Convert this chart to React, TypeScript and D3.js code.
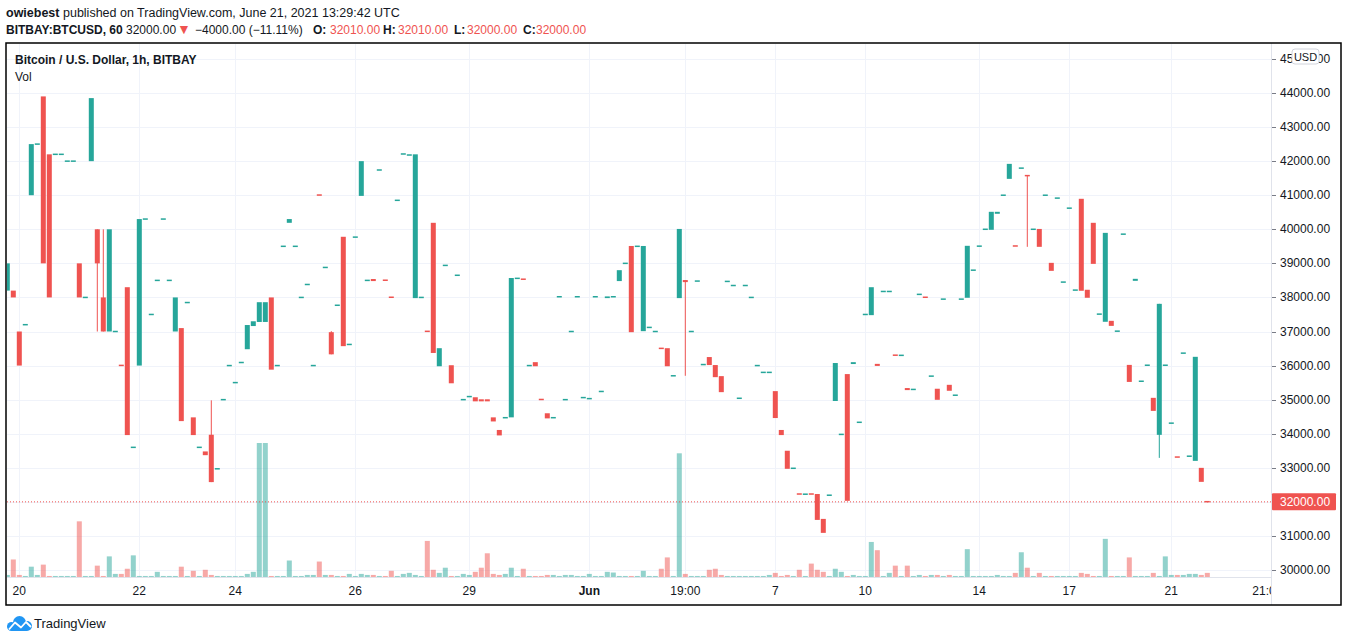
import React from "react";
import * as d3 from "d3";

// candles, one per bar (BITBAY BTCUSD 1h)
const opens = [
  38200, 38200, 37000, 37200, 41000, 42500, 43900, 42200, 42200, 42200,
  42000, 42000, 39000, 38000, 42000, 40000, 38000, 37000, 37000, 36010,
  38300, 33600, 36000, 40300, 37500, 38500, 40300, 38500, 37000, 37100,
  37850, 34480, 33600, 33480, 33970, 32970, 35000, 36000, 35500, 36090,
  36480, 37160, 37280, 37280, 38000, 36000, 39500, 40190, 39500, 38000,
  38380, 36000, 41010, 38880, 36980, 37770, 39780, 36620, 39770, 40980,
  38500, 38540, 41740, 38510, 38010, 40850, 42210, 42180, 37980, 38000,
  37010, 40190, 35980, 38940, 36010, 38650, 35000, 35090, 35070, 35010,
  35010, 34480, 34110, 34470, 34480, 38560, 38540, 36000, 36100, 35010,
  34600, 34470, 38020, 35000, 37000, 38020, 35060, 35030, 38020, 35240,
  37980, 38020, 38480, 39000, 39510, 39500, 37010, 37120, 37000, 36510,
  36510, 35700, 37980, 38510, 37000, 38480, 36030, 36250, 36015, 35690,
  38470, 38350, 35040, 38350, 38000, 36000, 35800, 35800, 35250, 34110,
  33500, 32985, 32235, 32225, 32235, 32230, 31500, 32195, 34960, 33980,
  35750, 36045, 34335, 37500, 37480, 36050, 38175, 38175, 36310, 36300,
  35340, 35300, 38090, 38010, 35690, 35320, 37950, 35435, 35130, 37950,
  37990, 38800, 39505, 40000, 39985, 40455, 41000, 41480, 39515, 41795,
  41590, 40000, 40010, 41000, 39015, 40915, 38450, 40620, 38215, 40895,
  38225, 40190, 37510, 37285, 37313, 37010, 39857, 36020, 38487, 35540,
  36010, 35053, 33967, 36010, 34310, 33320, 36365, 33340, 33203, 32998,
  32010,
];

const closes = [
  39000, 38000, 36000, 37200, 42500, 42500, 39000, 38000, 42200, 42200,
  42000, 42000, 38000, 38000, 43850, 39000, 37000, 40000, 37000, 36000,
  33960, 33600, 40300, 40300, 37500, 38500, 40300, 38500, 38000, 34370,
  37850, 33960, 33600, 33370, 32580, 32970, 35000, 36000, 35500, 36090,
  37190, 37300, 37860, 37860, 35880, 36000, 39500, 40300, 39500, 38000,
  38380, 36000, 41000, 38880, 36330, 37770, 36570, 36620, 39770, 42000,
  38500, 38480, 41740, 38500, 38000, 40850, 42210, 42180, 42200, 38000,
  37000, 36370, 36510, 38940, 35480, 38650, 35000, 35090, 34950, 34950,
  34950, 34360, 33950, 34470, 38570, 38560, 38530, 36000, 35980, 35000,
  34450, 34470, 38020, 35000, 37000, 38020, 35060, 35030, 38020, 35240,
  38030, 38020, 38800, 39000, 36980, 39500, 39510, 37120, 37000, 36500,
  35980, 35700, 40010, 38450, 37000, 38480, 36030, 36015, 35660, 35220,
  38470, 38350, 35040, 38350, 38000, 36000, 35800, 35800, 34460, 33960,
  32970, 32985, 32225, 32225, 32225, 31470, 31090, 32195, 36075, 33980,
  32030, 36100, 34335, 37500, 38300, 35990, 38175, 38175, 36300, 36300,
  35280, 35300, 38090, 38000, 35690, 34995, 37950, 35260, 35130, 37950,
  39515, 38800, 39505, 40000, 40513, 40513, 41000, 41920, 39505, 41795,
  41560, 40000, 39485, 41000, 38780, 40915, 38450, 40620, 38215, 38195,
  37990, 38985, 37510, 39895, 37165, 37010, 39857, 35520, 38546, 35540,
  36010, 34670, 37812, 36010, 34310, 33310, 36365, 33340, 36257, 32587,
  32000,
];

// the few bars whose wick sticks out of the body: [bar, price]
const upperWicks: [number, number][] = [[16, 40000], [34, 34980], [54, 37010]];
const lowerWicks: [number, number][] = [[15, 37000], [113, 35700], [170, 39485], [192, 33290]];

// volume, relative units
const volumes = [
  6, 51, 6, 3, 30, 6, 36, 3, 3, 3,
  3, 3, 162, 3, 3, 33, 3, 60, 9, 9,
  24, 63, 3, 3, 3, 15, 3, 3, 3, 30,
  3, 18, 3, 21, 6, 3, 3, 3, 3, 3,
  9, 15, 390, 390, 3, 3, 3, 48, 3, 3,
  6, 6, 45, 6, 6, 3, 3, 9, 3, 9,
  6, 6, 3, 3, 18, 3, 9, 12, 6, 3,
  105, 21, 12, 27, 3, 3, 9, 6, 15, 27,
  69, 9, 6, 9, 27, 3, 24, 3, 3, 3,
  6, 6, 3, 6, 6, 3, 3, 9, 3, 3,
  15, 13, 3, 3, 3, 3, 18, 3, 3, 24,
  57, 3, 360, 9, 3, 3, 3, 21, 24, 6,
  3, 3, 3, 3, 3, 3, 3, 6, 12, 3,
  6, 3, 21, 3, 39, 21, 15, 3, 24, 15,
  3, 6, 3, 3, 102, 78, 3, 12, 33, 3,
  33, 3, 6, 3, 6, 6, 3, 6, 3, 3,
  81, 3, 3, 3, 3, 6, 3, 3, 12, 72,
  27, 3, 12, 3, 3, 3, 3, 3, 3, 12,
  9, 3, 3, 111, 3, 3, 3, 57, 3, 3,
  3, 12, 3, 60, 6, 6, 6, 9, 9, 6,
  12,
];

const priceTicks = d3.range(30000, 45001, 1000);
const timeTickBars = [2, 22, 38, 58, 77, 97, 113, 128, 143, 162, 177, 194, 210];
const timeTickLabels = ["20", "22", "24", "26", "29", "Jun", "19:00", "7", "10", "14", "17", "21", "21:00"];
const lastPrice = 32000;

const UP = "#26a69a";
const DOWN = "#ef5350";
const TEXT = "#131722";
const FONT = "'Liberation Sans', Arial, sans-serif";

const paneLeft = 7;
const paneRight = 1271;
const paneTop = 44;
const paneBottom = 577;

export default function App() {
  const x = d3.scaleLinear().domain([0, 200]).range([7.3, 1207.3]);
  const y = d3.scaleLinear().domain([30000, 44000]).range([570, 93]);
  const yVol = d3.scaleLinear().domain([0, d3.max(volumes) as number]).range([paneBottom, 443]);
  const upper = new Map(upperWicks);
  const lower = new Map(lowerWicks);
  const bodyW = 5;
  const yLast = y(lastPrice);
  const fmt = d3.format(".2f");

  return (
    <svg
      width={1348}
      height={642}
      style={{ position: "absolute", left: 0, top: 0, background: "#fff" }}
      fontFamily={FONT}
    >
      <defs>
        <clipPath id="pane">
          <rect x={paneLeft} y={paneTop} width={paneRight - paneLeft} height={paneBottom - paneTop} />
        </clipPath>
        <clipPath id="timeaxis">
          <rect x={paneLeft} y={paneBottom} width={paneRight - paneLeft} height={30} />
        </clipPath>
      </defs>
      <rect width={1348} height={642} fill="#fff" />

      {/* header */}
      <text x={6} y={17} fontSize={12.5} fill={TEXT}>
        <tspan fontWeight="bold">owiebest</tspan>
        <tspan> published on TradingView.com, June 21, 2021 13:29:42 UTC</tspan>
      </text>
      <g fontSize={12} fill={TEXT}>
        <text x={6} y={34} fontWeight="bold">BITBAY:BTCUSD, 60</text>
        <text x={126} y={34}>32000.00</text>
        <text x={177} y={34} fill={DOWN} fontSize={14}>▼</text>
        <text x={195} y={34}>−4000.00 (−11.11%)</text>
        <text x={313} y={34} fontWeight="bold">O:</text>
        <text x={330} y={34} fill={DOWN}>32010.00</text>
        <text x={383} y={34} fontWeight="bold">H:</text>
        <text x={398} y={34} fill={DOWN}>32010.00</text>
        <text x={454} y={34} fontWeight="bold">L:</text>
        <text x={467} y={34} fill={DOWN}>32000.00</text>
        <text x={523} y={34} fontWeight="bold">C:</text>
        <text x={536} y={34} fill={DOWN}>32000.00</text>
      </g>

      {/* grid */}
      <g stroke="#f0f3fa" strokeWidth={1}>
        {priceTicks.map((t) => (
          <line key={t} x1={paneLeft} x2={paneRight} y1={Math.round(y(t)) + 0.5} y2={Math.round(y(t)) + 0.5} />
        ))}
        {timeTickBars.slice(0, -1).map((b) => (
          <line key={b} x1={Math.round(x(b)) + 0.5} x2={Math.round(x(b)) + 0.5} y1={paneTop} y2={paneBottom} />
        ))}
      </g>

      <g clipPath="url(#pane)">
        {/* volume */}
        {volumes.map((v, i) => {
          const up = closes[i] >= opens[i];
          return (
            <rect
              key={"v" + i}
              x={x(i) - bodyW / 2}
              y={yVol(v)}
              width={bodyW}
              height={paneBottom - yVol(v)}
              fill={up ? UP : DOWN}
              fillOpacity={0.5}
            />
          );
        })}

        {/* last price line */}
        <line x1={paneLeft} x2={paneRight} y1={yLast} y2={yLast} stroke={DOWN} strokeWidth={1} strokeDasharray="1 2" />

        {/* candles */}
        {opens.map((o, i) => {
          const c = closes[i];
          const up = c >= o;
          const color = up ? UP : DOWN;
          const top = y(Math.max(o, c));
          const bot = y(Math.min(o, c));
          const h = Math.max(1.5, bot - top);
          const mid = (top + bot) / 2;
          const hi = upper.get(i);
          const lo = lower.get(i);
          return (
            <g key={"c" + i}>
              {(hi !== undefined || lo !== undefined) && (
                <line
                  x1={x(i)}
                  x2={x(i)}
                  y1={y(hi ?? Math.max(o, c))}
                  y2={y(lo ?? Math.min(o, c))}
                  stroke={color}
                  strokeWidth={1}
                />
              )}
              <rect x={x(i) - bodyW / 2} y={mid - h / 2} width={bodyW} height={h} fill={color} />
            </g>
          );
        })}
      </g>

      {/* legend */}
      <text x={15} y={64} fontSize={12} fontWeight="bold" fill={TEXT}>Bitcoin / U.S. Dollar, 1h, BITBAY</text>
      <text x={15} y={81} fontSize={12} fill={TEXT}>Vol</text>

      {/* axes separators */}
      <line x1={paneLeft} x2={paneRight} y1={paneBottom + 0.5} y2={paneBottom + 0.5} stroke="#e0e3eb" />
      <line x1={paneRight + 0.5} x2={paneRight + 0.5} y1={43} y2={605} stroke="#e0e3eb" />

      {/* price axis */}
      <g fontSize={12} fill={TEXT}>
        {priceTicks.map((t) => (
          <g key={t}>
            <line x1={paneRight + 1} x2={paneRight + 5} y1={Math.round(y(t)) + 0.5} y2={Math.round(y(t)) + 0.5} stroke="#787b86" />
            <text x={1280} y={y(t) + 4}>{fmt(t)}</text>
          </g>
        ))}
      </g>
      <rect x={1292} y={49} width={27} height={15} rx={3} fill="#fff" stroke="#d1d4dc" />
      <text x={1305.5} y={60.5} fontSize={11} textAnchor="middle" fill={TEXT}>USD</text>

      <rect x={paneRight + 1} y={yLast - 8.5} width={64} height={17} rx={1} fill={DOWN} />
      <text x={1280} y={yLast + 4} fontSize={12} fill="#fff">{fmt(lastPrice)}</text>

      {/* time axis */}
      <g clipPath="url(#timeaxis)" fontSize={12} fill={TEXT} textAnchor="middle">
        {timeTickBars.map((b, i) => (
          <text key={b} x={x(b)} y={595} fontWeight={timeTickLabels[i] === "Jun" ? "bold" : "normal"}>
            {timeTickLabels[i]}
          </text>
        ))}
      </g>

      {/* frame */}
      <rect x={6} y={43} width={1335} height={562} fill="none" stroke="#000" strokeWidth={1.5} />

      {/* footer logo */}
      <g fill="#2196f3">
        <circle cx={11.5} cy={626.5} r={4.5} />
        <circle cx={19.5} cy={622.5} r={6.5} />
        <circle cx={27} cy={626} r={5} />
        <rect x={11.5} y={624} width={15.5} height={7} />
      </g>
      <polyline points="9,629.5 15,622.5 21,627.5 26,622 31,627" fill="none" stroke="#fff" strokeWidth={1.8} strokeLinejoin="round" />
      <text x={34} y={628} fontSize={13} fill={TEXT}>TradingView</text>
    </svg>
  );
}
